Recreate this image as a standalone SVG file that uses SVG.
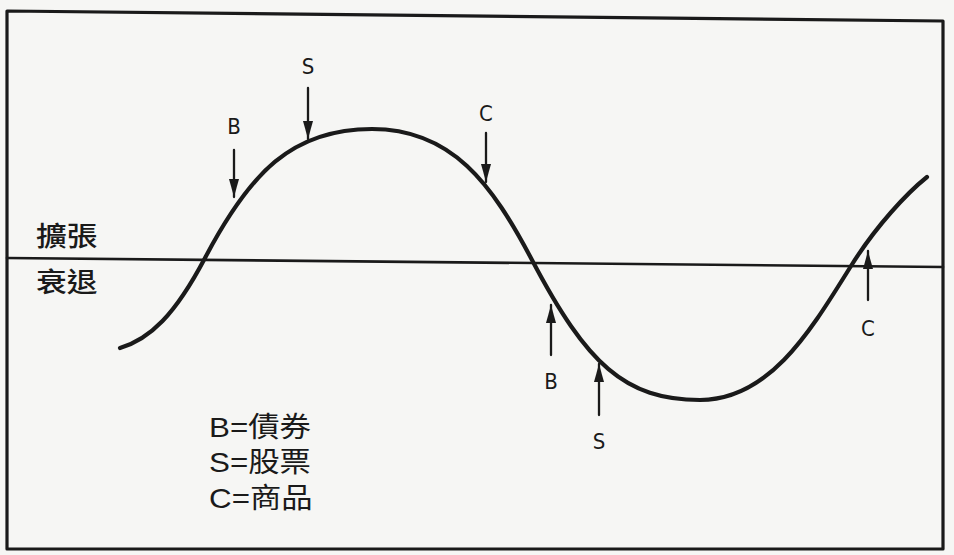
<svg xmlns="http://www.w3.org/2000/svg" width="954" height="555" viewBox="0 0 954 555">
  <style>
    .ink { stroke: #1a1a1a; fill: none; stroke-linecap: round; stroke-linejoin: round; }
    .frame { stroke-width: 3.2; }
    .axis { stroke-width: 2.6; }
    .curve { stroke-width: 4.2; }
    .arrow { stroke-width: 2.3; marker-end: url(#head); }
    .cjk { font-family: "Noto Sans CJK TC", "Noto Sans CJK SC", sans-serif; font-size: 27px; font-weight: 500; fill: #1a1a1a; }
    .legend { font-family: "Liberation Sans", "Noto Sans CJK TC", sans-serif; font-size: 28px; fill: #1a1a1a; }
    .tag { font-family: "DejaVu Sans Condensed", "DejaVu Sans", sans-serif; font-stretch: condensed; font-size: 22px; fill: #1a1a1a; text-anchor: middle; }
  </style>
  <defs>
    <marker id="head" markerUnits="userSpaceOnUse" markerWidth="18" markerHeight="10" refX="18" refY="5" orient="auto">
      <path d="M0,0 L18,5 L0,10 Z" fill="#1a1a1a"/>
    </marker>
  </defs>
  <rect x="0" y="0" width="954" height="555" fill="#f6f6f4"/>

  <g id="frame">
    <path class="ink frame" d="M7,11 L943,21 L943,549 L7,549 Z"/>
  </g>

  <g id="axis">
    <line class="ink axis" x1="7" y1="258" x2="943" y2="267"/>
  </g>

  <g id="cycle-curve">
    <path class="ink curve" d="M120,348 C150,339 175,315 205,258 C250,172.5 292,129 372,129 C452,129 492,184 532,260 C587,364.5 625,400 700,400 C770,400 811,330 851,266 C876,226 907,193 927,177"/>
  </g>

  <g id="connectors">
    <line class="ink arrow" x1="234" y1="150" x2="234" y2="197"/>
    <line class="ink arrow" x1="308" y1="88" x2="308" y2="139"/>
    <line class="ink arrow" x1="486" y1="133" x2="486" y2="182"/>
    <line class="ink arrow" x1="551" y1="355" x2="551" y2="305"/>
    <line class="ink arrow" x1="599" y1="415" x2="599" y2="364"/>
    <line class="ink arrow" x1="868" y1="300" x2="868" y2="251"/>
  </g>

  <g id="arrow-labels">
    <text class="tag" x="234" y="134">B</text>
    <text class="tag" x="308" y="74">S</text>
    <text class="tag" x="486" y="121">C</text>
    <text class="tag" x="551" y="389">B</text>
    <text class="tag" x="599" y="449">S</text>
    <text class="tag" x="868" y="336">C</text>
  </g>

  <g id="phase-labels">
    <text class="cjk" transform="translate(36,246) scale(1.14,1)">擴張</text>
    <text class="cjk" transform="translate(36,292) scale(1.14,1)">衰退</text>
  </g>

  <g id="legend">
    <text class="legend" transform="translate(209,437) scale(1.12,1)">B=債券</text>
    <text class="legend" transform="translate(209,472) scale(1.12,1)">S=股票</text>
    <text class="legend" transform="translate(209,508) scale(1.12,1)">C=商品</text>
  </g>
</svg>
